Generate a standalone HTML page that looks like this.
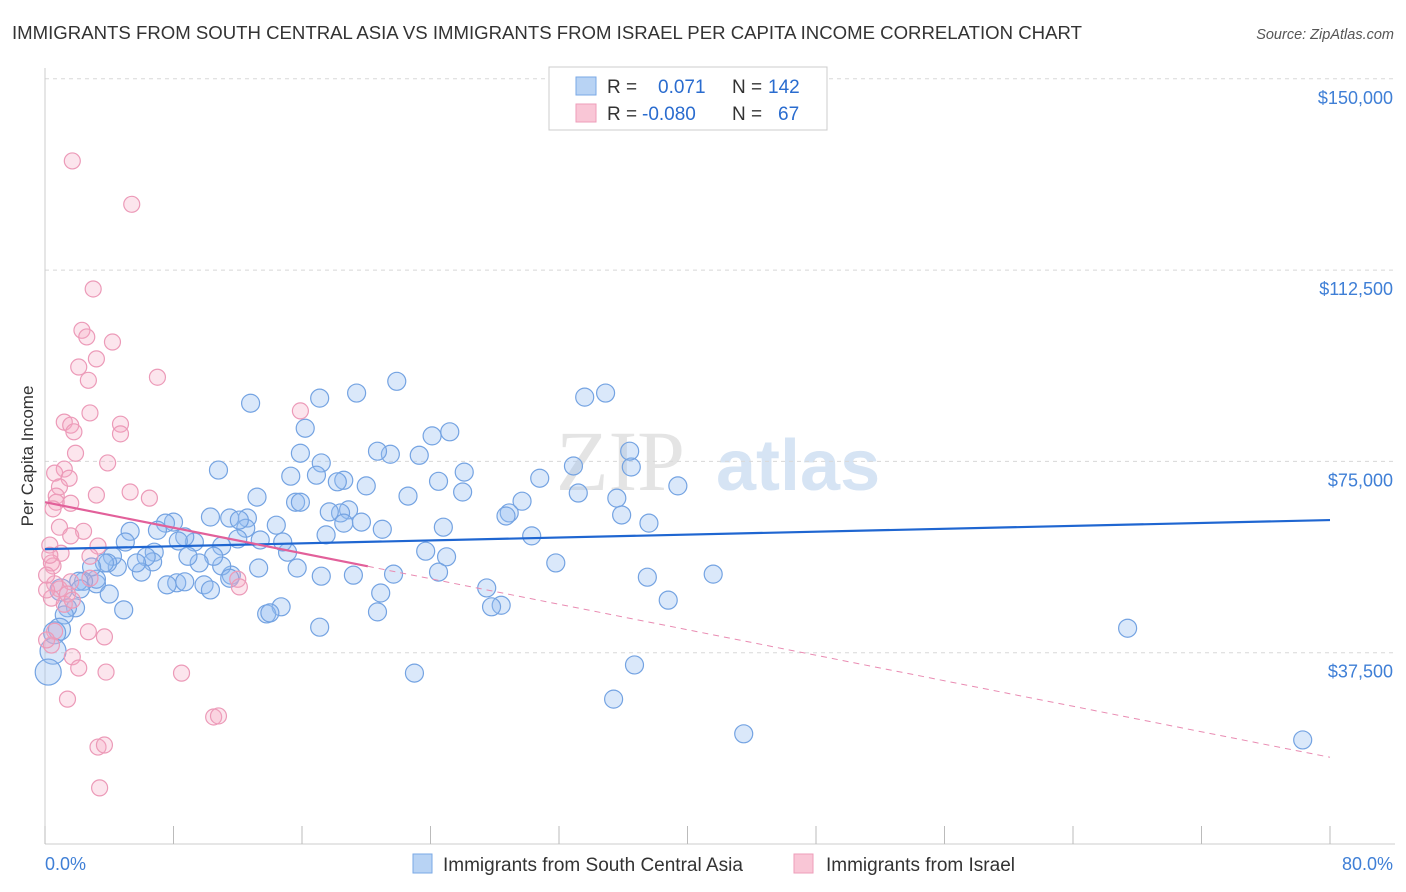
<!DOCTYPE html>
<html><head><meta charset="utf-8"><style>
body{margin:0;background:#fff;font-family:"Liberation Sans",sans-serif}
svg{display:block}
</style></head><body>
<svg id="chart" width="1406" height="892" viewBox="0 0 1406 892" xmlns="http://www.w3.org/2000/svg">
<text x="12" y="39" font-size="18.6" fill="#333">IMMIGRANTS FROM SOUTH CENTRAL ASIA VS IMMIGRANTS FROM ISRAEL PER CAPITA INCOME CORRELATION CHART</text>
<text x="1394" y="39" font-size="14.5" fill="#555" font-style="italic" text-anchor="end">Source: ZipAtlas.com</text>
<g>
<text x="556" y="490" font-size="86" fill="#e4e4e4" font-family="Liberation Serif,serif">ZIP</text>
<text x="716" y="490" font-size="72" fill="#d6e4f4" font-weight="bold">atlas</text>
</g>
<g id="grid"></g>
<g id="axes"></g>
<g id="marks"></g>
<g id="lines"></g>
<text transform="translate(33,456) rotate(-90)" font-size="17" fill="#333" text-anchor="middle">Per Capita Income</text>
<text x="45" y="870" font-size="18" fill="#3f7fd6">0.0%</text>
<text x="1393" y="870" font-size="18" fill="#3f7fd6" text-anchor="end">80.0%</text>
<g>
<rect x="549" y="67" width="278" height="63" fill="#fff" stroke="#ccc"/>
<rect x="576" y="77" width="20" height="18" fill="#b8d3f4" stroke="#7aa8e6"/>
<rect x="576" y="104" width="20" height="18" fill="#f9c6d6" stroke="#ee9dba"/>
<text x="607" y="93" font-size="19" fill="#333">R =</text>
<text x="658" y="93" font-size="19" fill="#2a6ccf">0.071</text>
<text x="732" y="93" font-size="19" fill="#333">N =</text>
<text x="768" y="93" font-size="19" fill="#2a6ccf">142</text>
<text x="607" y="120" font-size="19" fill="#333">R =</text>
<text x="642" y="120" font-size="19" fill="#2a6ccf">-0.080</text>
<text x="732" y="120" font-size="19" fill="#333">N =</text>
<text x="778" y="120" font-size="19" fill="#2a6ccf">67</text>
</g>
<g>
<rect x="413" y="854" width="19" height="19" fill="#b8d3f4" stroke="#7aa8e6"/>
<text x="443" y="871" font-size="19" fill="#333">Immigrants from South Central Asia</text>
<rect x="794" y="854" width="19" height="19" fill="#f9c6d6" stroke="#ee9dba"/>
<text x="826" y="871" font-size="19" fill="#333">Immigrants from Israel</text>
</g>
</svg>
<script>
const yTicks=[37.5,75,112.5,150];
const yTickLabels=["$37,500","$75,000","$112,500","$150,000"];
const xTicks=[0,8,16,24,32,40,48,56,64,72,80];
const blueX=[78.3,67.4,43.5,35.4,36.7,23.0,37.5,38.8,41.6,34.9,33.6,36.5,36.4,35.6,35.9,37.6,33.2,32.9,30.8,39.4,31.8,30.3,29.7,28.9,28.7,28.4,27.8,27.5,26.1,26.0,25.2,24.1,24.5,24.8,25.0,24.5,23.7,23.3,22.6,21.9,21.5,20.7,21.0,19.4,20.0,18.6,18.9,18.4,18.2,17.7,17.5,17.1,17.2,16.9,16.2,15.9,15.6,15.3,15.1,14.7,14.4,13.8,14.0,13.4,13.3,12.8,13.2,12.6,12.5,12.0,11.5,11.6,11.0,10.8,11.0,10.3,10.5,9.9,9.6,9.3,8.9,8.7,8.3,8.0,8.2,7.5,7.0,6.8,6.7,6.3,6.0,5.7,5.3,5.0,4.9,4.5,4.2,3.9,3.7,3.2,3.2,2.9,2.4,2.1,2.2,1.9,1.4,1.2,1.0,0.9,0.6,0.5,0.2,17.1,19.2,20.7,20.9,21.7,19.7,15.7,14.8,15.9,18.6,17.2,12.1,11.5,10.3,8.7,7.6,4.0];
const blueY=[20.4,42.3,21.6,28.4,35.1,33.5,52.3,47.8,52.9,88.4,87.6,73.9,77.0,67.8,64.5,62.9,68.8,74.1,71.7,70.2,55.1,60.4,67.2,64.9,64.3,46.8,46.5,50.2,72.9,69.0,80.8,80.0,71.1,62.1,56.3,53.3,57.4,76.2,68.2,90.7,76.4,77.0,61.7,88.4,70.2,71.3,65.5,64.9,71.0,65.1,60.6,87.4,74.7,72.3,81.5,76.6,67.0,72.1,57.2,46.5,62.5,45.1,45.3,59.6,54.1,86.4,68.0,63.9,61.9,59.8,63.9,52.7,54.5,73.3,58.4,64.1,56.4,50.8,55.1,59.2,56.4,60.2,59.4,63.1,51.2,62.9,61.5,57.2,55.3,56.3,53.3,55.1,61.3,59.2,45.9,54.3,56.4,55.1,55.1,51.0,51.9,54.3,51.5,51.5,50.0,46.3,46.3,44.9,49.8,42.1,41.4,37.8,33.7,42.5,52.7,45.5,49.2,52.9,63.1,54.1,59.2,67.0,62.9,52.5,63.5,52.1,49.8,51.4,50.8,49.0];
const pinkX=[1.7,5.4,3.0,2.3,2.6,3.2,4.2,2.1,2.7,7.0,15.9,2.8,1.2,1.6,1.8,4.7,4.7,1.9,3.9,1.2,0.6,1.5,0.9,3.2,5.3,6.5,0.7,0.7,1.6,0.5,0.9,2.4,1.6,0.3,1.0,3.3,2.8,0.5,0.4,0.6,0.9,2.8,1.6,12.0,12.1,0.4,1.2,1.4,1.7,2.7,0.6,3.7,0.4,1.7,2.1,3.8,8.5,1.4,10.5,10.8,3.3,3.7,3.4,0.1,0.1,0.3,0.1];
const pinkY=[133.9,125.4,108.8,100.7,99.4,95.1,98.4,93.5,90.9,91.5,84.9,84.5,82.7,82.1,80.8,82.3,80.4,76.6,74.7,73.5,72.7,71.7,70.0,68.4,69.0,67.8,68.2,67.0,66.8,65.7,62.1,61.3,60.4,58.6,57.0,58.4,56.4,54.5,55.1,51.0,50.0,52.1,51.4,51.9,50.4,48.2,47.0,49.0,47.8,41.6,41.7,40.6,39.0,36.7,34.5,33.7,33.5,28.4,24.9,25.1,19.0,19.4,11.0,49.8,52.7,56.6,40.0];
const blueTrend=[57.8,63.5];
const pinkTrend=[67.0,17.0];
const pinkSolidEnd=20.1;

const NS="http://www.w3.org/2000/svg";
const X=p=>45+p*16.0625;
const Y=v=>844-v*5.1013;
function mk(tag,attrs,parent){const e=document.createElementNS(NS,tag);for(const k in attrs)e.setAttribute(k,attrs[k]);parent.appendChild(e);return e;}
const grid=document.getElementById('grid'),axes=document.getElementById('axes'),marks=document.getElementById('marks'),lines=document.getElementById('lines');
yTicks.forEach((t,i)=>{
  const g=mk('line',{x1:45,x2:1395,y1:Y(t),y2:Y(t),stroke:'#d8d8d8','stroke-dasharray':'4 4'},grid);
  
  
  const l=mk('text',{x:1393,y:Y(t)+25,'font-size':18,fill:'#3f7fd6','text-anchor':'end'},axes);
  l.textContent=yTickLabels[i];
  
  
});
const yAxis=mk('line',{x1:45,x2:45,y1:68,y2:844,stroke:'#ccc'},axes);


const xAxis=mk('line',{x1:45,x2:1395,y1:844,y2:844,stroke:'#ccc'},axes);


xTicks.forEach(t=>{
  const k=mk('line',{x1:X(t),x2:X(t),y1:826,y2:844,stroke:'#bbb'},axes);
  
  
});
blueX.forEach((x,i)=>{
  const r=x<1.2?(x<0.6?13:11):9;
  const c=mk('circle',{cx:X(x),cy:Y(blueY[i]),r:r,fill:'rgba(150,190,240,0.35)',stroke:'#74a3e2','stroke-width':1.2},marks);
  
  
});
pinkX.forEach((x,i)=>{
  const c=mk('circle',{cx:X(x),cy:Y(pinkY[i]),r:8,fill:'rgba(245,170,195,0.3)',stroke:'#ec9ab8','stroke-width':1.2},marks);
  
  
});
const bl=mk('line',{x1:X(0),y1:Y(blueTrend[0]),x2:X(80),y2:Y(blueTrend[1]),stroke:'#1f66d1','stroke-width':2.2},lines);


const pAt=x=>pinkTrend[0]+(pinkTrend[1]-pinkTrend[0])*x/80;
const ps=mk('line',{x1:X(0),y1:Y(pAt(0)),x2:X(pinkSolidEnd),y2:Y(pAt(pinkSolidEnd)),stroke:'#e2609a','stroke-width':2.2},lines);


const pd=mk('line',{x1:X(pinkSolidEnd),y1:Y(pAt(pinkSolidEnd)),x2:X(80),y2:Y(pAt(80)),stroke:'#e98bb2','stroke-width':1,'stroke-dasharray':'6 5'},lines);


</script>
</body></html>
